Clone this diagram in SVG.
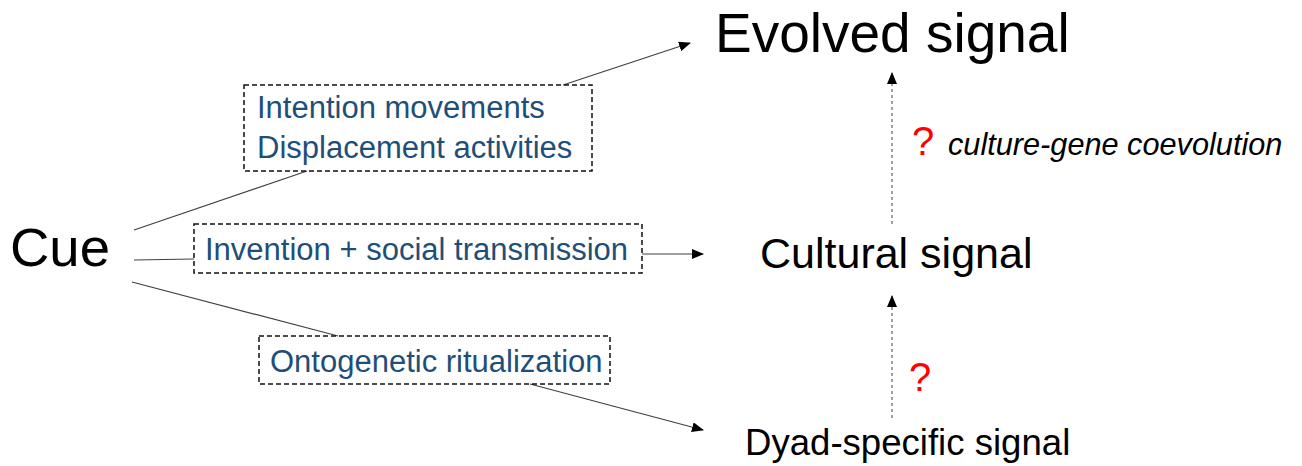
<svg xmlns="http://www.w3.org/2000/svg" width="1302" height="466" viewBox="0 0 1302 466">
  <style>
    text { font-family: "Liberation Sans", Arial, sans-serif; }
    .node { fill: #000000; }
    .label { fill: #1F4E79; font-size: 31px; }
    .box { fill: none; stroke: #111111; stroke-width: 1.5; stroke-dasharray: 5 3; }
    .link { fill: none; stroke: #404040; stroke-width: 1.2; }
    .dotted { fill: none; stroke: #404040; stroke-width: 1; stroke-dasharray: 3 3; }
    .q { fill: #FF0000; font-size: 40px; }
    .note { fill: #000000; font-size: 30.7px; font-style: italic; }
  </style>
  <defs>
    <marker id="arrow" markerUnits="userSpaceOnUse" markerWidth="12" markerHeight="10" refX="11" refY="5" orient="auto">
      <path d="M0,0 L12,5 L0,10 Z" fill="#000000"/>
    </marker>
  </defs>

  <rect width="1302" height="466" fill="#FFFFFF"/>

  <g id="connectors">
    <!-- Cue to the three pathways -->
    <line class="link" x1="134" y1="230" x2="307" y2="171"/>
    <line class="link" x1="134" y1="260" x2="194" y2="259"/>
    <line class="link" x1="132" y1="282" x2="338" y2="336"/>
    <!-- pathways to resulting signals -->
    <line class="link" x1="563" y1="85" x2="690" y2="43" marker-end="url(#arrow)"/>
    <line class="link" x1="642" y1="254" x2="703" y2="254" marker-end="url(#arrow)"/>
    <line class="link" x1="530" y1="384" x2="703" y2="430" marker-end="url(#arrow)"/>
    <!-- uncertain transitions -->
    <line class="dotted" x1="892" y1="224" x2="892" y2="73" marker-end="url(#arrow)"/>
    <line class="dotted" x1="892" y1="418" x2="892" y2="296" marker-end="url(#arrow)"/>
  </g>

  <g id="cue">
    <text class="node" x="10" y="266" font-size="54.5">Cue</text>
  </g>

  <g id="evolved-signal">
    <text class="node" x="715" y="52" font-size="55">Evolved signal</text>
  </g>

  <g id="cultural-signal">
    <text class="node" x="760" y="268" font-size="43">Cultural signal</text>
  </g>

  <g id="dyad-specific-signal">
    <text class="node" x="745" y="455" font-size="36.6">Dyad-specific signal</text>
  </g>

  <g id="ritualized-behaviours">
    <rect class="box" x="244" y="85" width="348" height="86"/>
    <text class="label" x="257" y="118">Intention movements</text>
    <text class="label" x="257" y="158">Displacement activities</text>
  </g>

  <g id="social-transmission">
    <rect class="box" x="194" y="224" width="448" height="49"/>
    <text class="label" x="205" y="260">Invention + social transmission</text>
  </g>

  <g id="ontogenetic-ritualization">
    <rect class="box" x="259" y="336" width="351" height="48"/>
    <text class="label" x="270" y="372">Ontogenetic ritualization</text>
  </g>

  <g id="coevolution-note">
    <text class="q" x="912" y="155">?</text>
    <text class="note" x="948" y="155">culture-gene coevolution</text>
  </g>

  <g id="dyad-note">
    <text class="q" x="909" y="391">?</text>
  </g>
</svg>
